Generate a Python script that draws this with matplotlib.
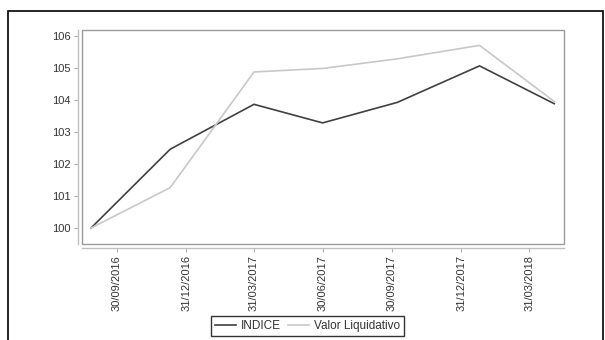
import matplotlib
matplotlib.use("Agg")
import matplotlib.pyplot as plt
import matplotlib.dates as mdates
from matplotlib.patches import Rectangle
from datetime import datetime

# data
dates = ["2016-08-27", "2016-12-10", "2017-03-31", "2017-06-30",
         "2017-10-07", "2018-01-24", "2018-05-03"]
indice = [100.0, 102.46, 103.86, 103.28, 103.92, 105.06, 103.88]
valor_liquidativo = [100.0, 101.26, 104.87, 104.98, 105.28, 105.70, 103.95]
tick_dates = ["2016-09-30", "2016-12-31", "2017-03-31", "2017-06-30",
              "2017-09-30", "2017-12-31", "2018-03-31"]
y_ticks = [100, 101, 102, 103, 104, 105, 106]

x = [datetime.strptime(d, "%Y-%m-%d") for d in dates]
xt = [datetime.strptime(d, "%Y-%m-%d") for d in tick_dates]

plt.rcParams["font.family"] = ["Liberation Sans", "DejaVu Sans"]

W, H = 605, 340
fig = plt.figure(figsize=(W / 100, H / 100), dpi=100)
ax = fig.add_axes([82 / W, (H - 244) / H, (564 - 82) / W, (244 - 30) / H])

ax.plot(x, indice, color="#404040", lw=1.2, label="INDICE")
ax.plot(x, valor_liquidativo, color="#c8c8c8", lw=1.2, label="Valor Liquidativo")

ax.set_xlim(datetime(2016, 8, 15), datetime(2018, 5, 16))
ax.set_ylim(99.5, 106.18)

# gray box around the plot area
ax.add_patch(Rectangle((0, 0), 1, 1, transform=ax.transAxes, fill=False,
                       edgecolor="#9a9a9a", lw=1.0, clip_on=False, zorder=5))

for s in ["top", "right"]:
    ax.spines[s].set_visible(False)
for s in ["left", "bottom"]:
    ax.spines[s].set_position(("outward", 3))
    ax.spines[s].set_color("#c0c0c0")
    ax.spines[s].set_linewidth(1.0)

ax.set_yticks(y_ticks)
ax.set_xticks(xt)
ax.set_xticklabels([d.strftime("%d/%m/%Y") for d in xt], rotation=90)
ax.tick_params(axis="both", length=3, width=0.8, color="#b0b0b0",
               labelsize=8, labelcolor="#333333", pad=2)

fig.legend(loc="center", bbox_to_anchor=(307.5 / W, (H - 326) / H),
           ncol=2, fontsize=8.5, frameon=True, fancybox=False,
           edgecolor="black", handlelength=1.8, handletextpad=0.4,
           columnspacing=0.6, borderpad=0.3, labelcolor="#333333")
fig.legends[0].get_frame().set_linewidth(1.0)

# outer black frame
fig.add_artist(Rectangle((7.5 / W, -0.1), (603 - 7.5) / W, 1.1 - 11 / H,
                         transform=fig.transFigure, fill=False,
                         edgecolor="black", lw=1.2))

fig.savefig("out.png", dpi=100)
